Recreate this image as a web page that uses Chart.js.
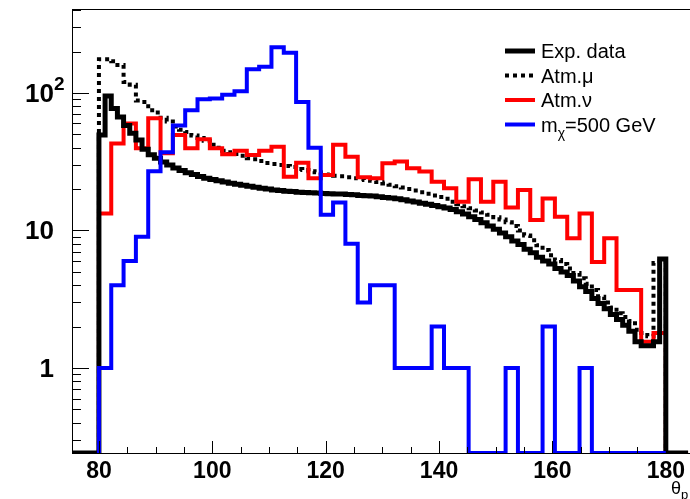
<!DOCTYPE html>
<html>
<head>
<meta charset="utf-8">
<script src="https://cdn.jsdelivr.net/npm/chart.js@4/dist/chart.umd.min.js"></script>
<style>
html, body { margin: 0; padding: 0; background: #fff; }
canvas { display: block; }
</style>
</head>
<body>
<canvas id="chart" width="690" height="499"></canvas>
<script>
'use strict'

// histogram range (degrees) and axis range
let thetaMin = 80,
    thetaMax = 180,
    xMin = 75.25,
    xMax = 183.96,
    yMin = 0.241,
    yMax = 408

let xTicks = [80, 100, 120, 140, 160, 180]
let yTicks = [1, 10, 100]
let yTickLabels = ['1', '10', '10^{2}']
let axisTitle = 'θ_{p}'

// Exp. data, 92 bins
let expData = [
    49.5, 95, 77, 67, 58, 51, 45.5, 39, 35.5, 33.5,
    31.5, 30, 28.5, 27.3, 26.3, 25.5, 24.7, 24.0, 23.5, 23.0,
    22.5, 22.1, 21.7, 21.3, 21.0, 20.6, 20.3, 20.0, 19.7, 19.5,
    19.3, 19.2, 19.0, 18.9, 18.8, 18.7, 18.6, 18.5, 18.4, 18.4,
    18.3, 18.2, 18.0, 17.9, 17.8, 17.6, 17.4, 17.2, 17.0, 16.7,
    16.4, 16.1, 15.8, 15.5, 15.2, 14.9, 14.6, 14.2, 13.7, 13.2,
    12.6, 12.0, 11.4, 10.8, 10.2, 9.6, 9.0, 8.4, 7.9, 7.3,
    6.9, 6.4, 6.0, 5.7, 5.3, 5.0, 4.7, 4.3, 3.9, 3.6,
    3.2, 2.95, 2.7, 2.45, 2.25, 2.05, 1.85, 1.55, 1.45, 1.45,
    1.55, 6.2]

// Atm. mu, 92 bins
let atmMu = [
    176, 176, 170, 160, 120, 115, 88, 86, 75, 72,
    66, 62, 57, 54, 52, 49, 47, 45, 42, 40,
    38, 37, 36, 35, 33.5, 33, 32, 31, 30.5, 30,
    29.5, 29, 28, 27.5, 27, 26.5, 26, 25.5, 25, 24.8,
    24.4, 24, 23.7, 23.3, 23, 22.5, 22, 21.5, 21, 20.5,
    20, 19.5, 19, 18.5, 18, 17.5, 17, 16.2, 15.5, 15,
    14.5, 14, 13.5, 13, 12.5, 12, 11.5, 10.8, 10, 9.2,
    8.5, 7.8, 7.2, 6.6, 6.1, 5.7, 5.3, 4.9, 4.5, 4.1,
    3.7, 3.3, 3.0, 2.75, 2.5, 2.35, 2.2, 1.9, 1.8, 1.7,
    5.8, 6.0]

// Atm. nu, 46 bins
let atmNu = [
    13.3, 43, 60, 39.6, 65.5, 36.4, 49.5, 39.6, 46, 39.6,
    35.8, 38, 35.4, 38, 40.7, 24.6, 31.1, 24, 25.3, 42,
    34.4, 24.4, 24, 30.8, 31.7, 28.3, 26.8, 22.6, 20.3, 16.2,
    23.6, 16.2, 22.6, 14.7, 19.7, 11.9, 17.1, 12.6, 8.8, 13.3,
    5.9, 8.8, 3.7, 3.7, 1.55, 1.8]

// m_chi = 500 GeV, 46 bins
let wimp500 = [
    1, 4, 6, 9, 27, 37, 58, 75, 90, 91,
    97, 103, 149, 155, 215, 196, 86, 40, 13, 16,
    8, 3, 4, 4, 1, 1, 1, 2, 1, 1,
    0, 0, 0, 1, 0, 0, 2, 0, 0, 1,
    0, 0, 0, 0, 0, 0]

let family = '"Liberation Sans", Arial, Helvetica, sans-serif'

// histogram -> step outline (empty bins sit on the axis floor)
let toSteps = function (vals, withTails) {
    let w = (thetaMax - thetaMin) / vals.length
    let pts = []
    if (withTails) pts.push({x: xMin, y: yMin})
    pts.push({x: thetaMin, y: yMin})
    vals.forEach((v, i) => {
        let y = v > 0 ? v : yMin
        pts.push({x: thetaMin + i * w, y: y})
        pts.push({x: thetaMin + (i + 1) * w, y: y})
    })
    pts.push({x: thetaMax, y: yMin})
    if (withTails) pts.push({x: xMax, y: yMin})
    return pts
}

// text with _{sub} and ^{sup}
let drawRich = function (ctx, text, x, y, size, weight, align) {
    let parts = [], re = /([_^])\{([^}]*)\}/g, last = 0, m
    while ((m = re.exec(text))) {
        if (m.index > last) parts.push({t: text.slice(last, m.index), k: ''})
        parts.push({t: m[2], k: m[1]})
        last = re.lastIndex
    }
    if (last < text.length) parts.push({t: text.slice(last), k: ''})
    let font = (k) => weight + ' ' + (k ? Math.round(size * 0.72) : size) + 'px ' + family
    let base = 0
    parts.forEach(p => {
        ctx.font = font(p.k)
        p.w = ctx.measureText(p.t).width
        if (p.k !== '^') base += p.w
    })
    let cx = align === 'right' ? x - base : x
    parts.forEach(p => {
        ctx.font = font(p.k)
        let dy = p.k === '_' ? size * 0.3 : (p.k === '^' ? -size * 0.45 : 0)
        ctx.fillText(p.t, cx, y + dy)
        cx += p.w
    })
}

let rootFrame = {
    id: 'rootFrame',
    afterDatasetsDraw(chart) {
        let ctx = chart.ctx, a = chart.chartArea
        let xs = chart.scales.x, ys = chart.scales.y
        ctx.save()
        ctx.strokeStyle = '#000'
        ctx.fillStyle = '#000'
        ctx.lineWidth = 1
        ctx.strokeRect(a.left + 0.5, a.top + 0.5, a.right - a.left + 5, a.bottom - a.top)

        // x ticks, inside the frame
        ctx.beginPath()
        for (let v = thetaMin; v <= xMax; v += 5) {
            let px = Math.round(xs.getPixelForValue(v)) + 0.5
            let len = xTicks.includes(v) ? 12 : 6
            ctx.moveTo(px, a.bottom)
            ctx.lineTo(px, a.bottom - len)
        }
        // y ticks, log decades
        for (let d = -1; d <= 2; d++) {
            for (let k = 1; k <= 9; k++) {
                let v = k * Math.pow(10, d)
                if (v < yMin || v > yMax) continue
                let py = Math.round(ys.getPixelForValue(v)) + 0.5
                let len = k === 1 ? 17 : 9
                ctx.moveTo(a.left, py)
                ctx.lineTo(a.left + len, py)
            }
        }
        ctx.stroke()

        // y labels
        ctx.textBaseline = 'alphabetic'
        yTicks.forEach((v, i) => {
            let py = ys.getPixelForValue(v)
            drawRich(ctx, yTickLabels[i], 54, py + 9, 26, 'bold', 'right')
        })

        // axis title
        drawRich(ctx, axisTitle, 671, 494, 18, 'normal', 'left')

        // legend
        let rowY = [51, 75.5, 100, 124.5]
        chart.data.datasets.forEach((ds, i) => {
            let ly = rowY[i]
            ctx.save()
            ctx.strokeStyle = ds.borderColor
            ctx.lineWidth = ds.borderWidth
            ctx.setLineDash(ds.borderDash || [])
            ctx.beginPath()
            ctx.moveTo(505, ly)
            ctx.lineTo(535, ly)
            ctx.stroke()
            ctx.restore()
            ctx.fillStyle = '#000'
            drawRich(ctx, ds.label, 541, ly + 7, 20, 'normal', 'left')
        })
        ctx.restore()
    }
}

let config = {
    type: 'line',
    data: {
        datasets: [{
            label: 'Exp. data',
            data: toSteps(expData, true),
            borderColor: '#000000',
            borderWidth: 5,
            order: 1
        }, {
            label: 'Atm.μ',
            data: toSteps(atmMu, false),
            borderColor: '#000000',
            borderWidth: 4,
            borderDash: [4, 4],
            order: 3
        }, {
            label: 'Atm.ν',
            data: toSteps(atmNu, true),
            borderColor: '#ff0000',
            borderWidth: 4,
            order: 2
        }, {
            label: 'm_{χ}=500 GeV',
            data: toSteps(wimp500, false),
            borderColor: '#0000ff',
            borderWidth: 4,
            order: 0
        }]
    },
    options: {
        responsive: false,
        animation: false,
        layout: {padding: {top: 9, right: 0, left: 0, bottom: 0}},
        elements: {
            point: {radius: 0},
            line: {tension: 0, fill: false, borderCapStyle: 'butt', borderJoinStyle: 'miter'}
        },
        plugins: {
            legend: {display: false},
            tooltip: {enabled: false}
        },
        scales: {
            x: {
                type: 'linear',
                min: xMin,
                max: xMax,
                grid: {display: false, drawTicks: false},
                border: {display: false},
                afterBuildTicks: (s) => { s.ticks = xTicks.map(v => ({value: v})) },
                afterFit: (s) => { s.height = 46 },
                ticks: {
                    autoSkip: false,
                    maxRotation: 0,
                    padding: 5,
                    color: '#000',
                    font: {family: family, size: 23, weight: 'bold'}
                }
            },
            y: {
                type: 'logarithmic',
                min: yMin,
                max: yMax,
                grid: {display: false, drawTicks: false},
                border: {display: false},
                ticks: {display: false},
                afterFit: (s) => { s.width = 72 }
            }
        }
    },
    plugins: [rootFrame]
}

let myChart = new Chart(document.getElementById('chart'), config)
</script>
</body>
</html>
